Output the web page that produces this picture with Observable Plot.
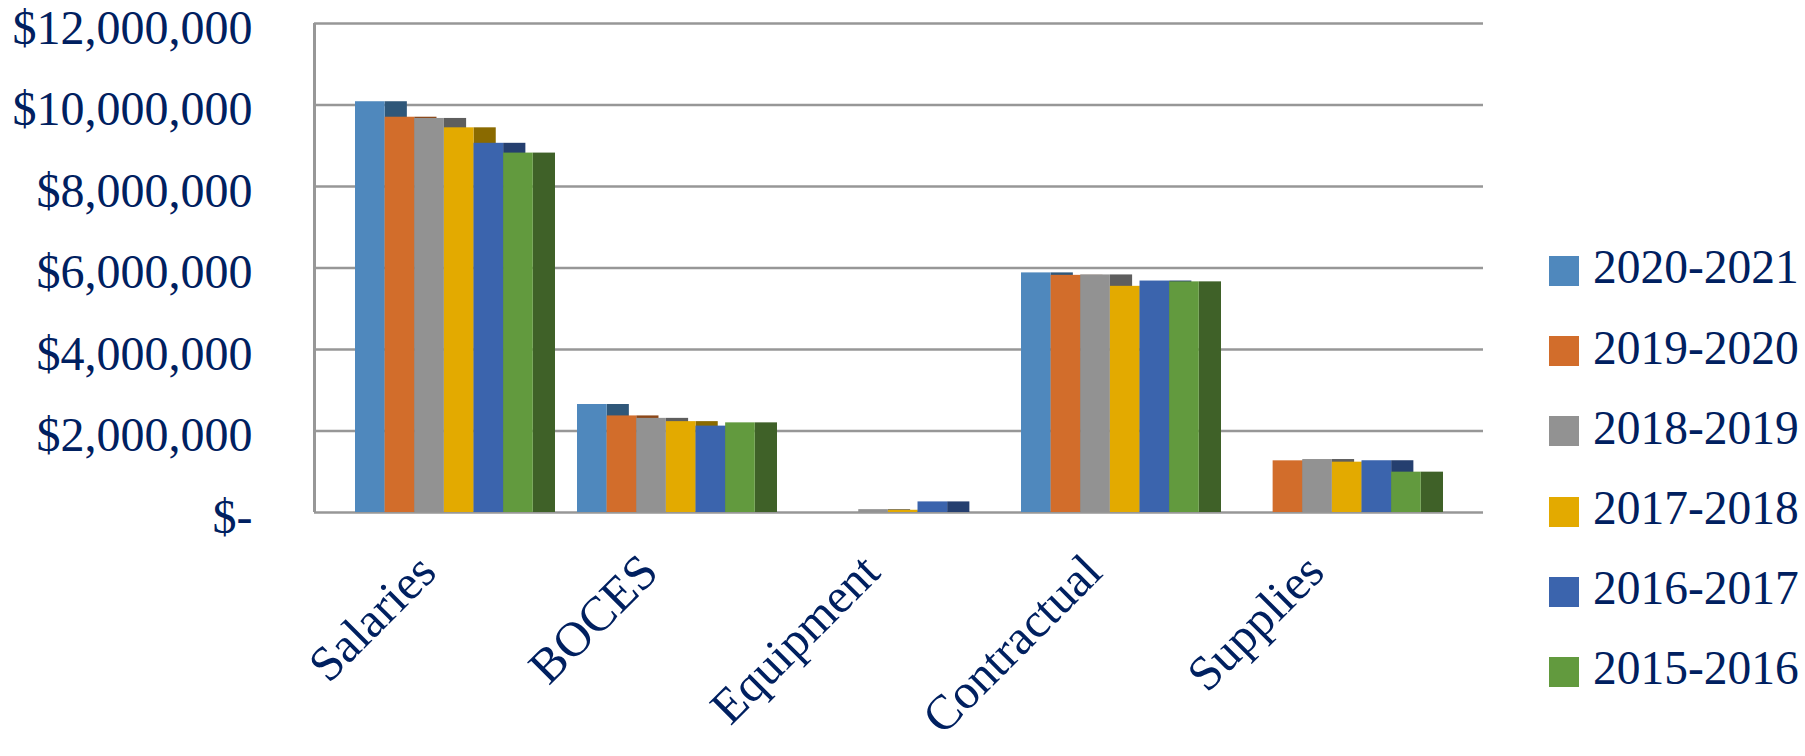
<!DOCTYPE html>
<html>
<head>
<meta charset="utf-8">
<script src="https://cdn.jsdelivr.net/npm/d3@7"></script>
<script src="https://cdn.jsdelivr.net/npm/@observablehq/plot@0.6"></script>
<style>
  html, body { margin: 0; padding: 0; background: white; }
  #wrap { position: relative; width: 1805px; height: 756px; overflow: hidden; }
  #legend { position: absolute; left: 1549px; top: 231px; font-family: "Liberation Serif", serif; font-size: 47.5px; color: #002060; }
  .row { display: flex; align-items: center; height: 80.2px; }
  .sw { width: 30px; height: 30px; margin-right: 14px; flex: none; }
  .lbl { line-height: 1; white-space: nowrap; position: relative; top: -3px; }
</style>
</head>
<body>
<div id="wrap"></div>
<script>
// ---- data ----
const categories = ["Salaries", "BOCES", "Equipment", "Contractual", "Supplies"];
const seriesNames = ["2020-2021", "2019-2020", "2018-2019", "2017-2018", "2016-2017", "2015-2016"];
const v2020_2021 = [10080000, 2650000, 0, 5880000, 0];
const v2019_2020 = [9700000, 2370000, 0, 5820000, 1268000];
const v2018_2019 = [9670000, 2310000, 70000, 5830000, 1300000];
const v2017_2018 = [9440000, 2230000, 55000, 5550000, 1235000];
const v2016_2017 = [9060000, 2120000, 260000, 5680000, 1270000];
const v2015_2016 = [8820000, 2200000, 0, 5660000, 990000];
const seriesValues = [v2020_2021, v2019_2020, v2018_2019, v2017_2018, v2016_2017, v2015_2016];
const yTicks = [0, 2000000, 4000000, 6000000, 8000000, 10000000, 12000000];
const frontColors = ["#4F88BD", "#D26D2B", "#929292", "#E3AA00", "#3B64AD", "#629A3E"];
const sideColors  = ["#2F5779", "#8C4718", "#5E5E5E", "#8A6A00", "#253F6F", "#3F6128"];

const data = [];
seriesNames.forEach((s, si) => {
  categories.forEach((c, ci) => {
    data.push({category: c, series: s, si, value: seriesValues[si][ci]});
  });
});

const W = 1805, H = 756;
const M = {marginLeft: 314, marginRight: 322, marginTop: 23, marginBottom: 244};
const ink = "#002060";
const fmt = d => d === 0 ? "$-" : "$" + d3.format(",")(d);

// background: grid, axis line, y labels
const back = Plot.plot({
  width: W, height: H, ...M,
  style: {fontFamily: "Liberation Serif, serif", fontSize: "48px", color: ink, background: "white"},
  x: {domain: [0, 1], axis: null},
  y: {domain: [0, 12000000], label: null},
  marks: [
    Plot.ruleY(yTicks, {stroke: "#979797", strokeWidth: 2.5}),
    Plot.ruleX([0], {stroke: "#979797", strokeWidth: 3}),
    Plot.axisY(yTicks, {tickFormat: fmt, tickSize: 0, tickPadding: 62, dy: 5, fontSize: 48, fill: ink, label: null})
  ]
});

// foreground: 3D-like bars and category labels
const front = Plot.plot({
  width: W, height: H, ...M,
  style: {fontFamily: "Liberation Serif, serif", fontSize: "48px", color: ink, background: "transparent",
          position: "absolute", left: "0px", top: "0px", overflow: "visible"},
  fx: {domain: categories, paddingInner: 0.101, paddingOuter: 0.175, axis: null, label: null},
  x: {domain: [0, 6.75], axis: null},
  y: {domain: [0, 12000000], axis: null},
  color: {type: "identity"},
  marks: [
    Plot.rect(data, {fx: "category", x1: d => d.si + 1, x2: d => d.si + 1.75, y1: 0, y2: "value",
                     fill: d => sideColors[d.si]}),
    Plot.rect(data, {fx: "category", x1: d => d.si, x2: d => d.si + 1, y1: 0, y2: "value",
                     fill: d => frontColors[d.si]}),
    Plot.text(categories, {fx: d => d, text: d => d, frameAnchor: "bottom", rotate: -45,
                           textAnchor: "end", dx: -17, dy: 62, fontSize: 49, fill: ink})
  ]
});

const wrap = document.getElementById("wrap");
wrap.appendChild(back);
wrap.appendChild(front);

const legend = document.createElement("div");
legend.id = "legend";
seriesNames.forEach((s, i) => {
  const row = document.createElement("div");
  row.className = "row";
  const sw = document.createElement("div");
  sw.className = "sw";
  sw.style.background = frontColors[i];
  const t = document.createElement("span");
  t.className = "lbl";
  t.textContent = s;
  row.appendChild(sw);
  row.appendChild(t);
  legend.appendChild(row);
});
wrap.appendChild(legend);
</script>
</body>
</html>
